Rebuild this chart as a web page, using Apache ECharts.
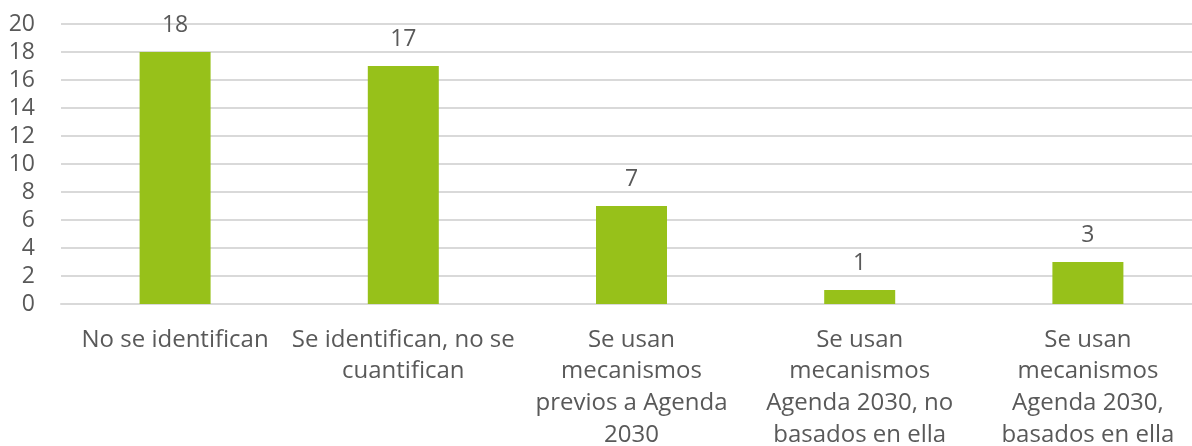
<!DOCTYPE html>
<html>
<head>
<meta charset="utf-8">
<script src="https://cdn.jsdelivr.net/npm/echarts@6/dist/echarts.min.js"></script>
<style>
  html, body { margin: 0; padding: 0; background: #fff; }
  #chart { width: 1192px; height: 446px; }
</style>
</head>
<body>
<div id="chart"></div>
<script>
// Categories (pre-wrapped into lines) and counts
const categories = [
  'No se identifican',
  'Se identifican, no se\ncuantifican',
  'Se usan\nmecanismos\nprevios a Agenda\n2030',
  'Se usan\nmecanismos\nAgenda 2030, no\nbasados en ella',
  'Se usan\nmecanismos\nAgenda 2030,\nbasados en ella'
];
const counts = [18, 17, 7, 1, 3];
const yTicks = { min: 0, max: 20, interval: 2 };

const textColor = '#595959';
const fontFamily = '"Open Sans", "Noto Sans", sans-serif';

const chart = echarts.init(document.getElementById('chart'));
chart.setOption({
  animation: false,
  grid: {
    left: 61, right: -10, top: 24, bottom: 142,
    containLabel: false, outerBoundsMode: 'none'
  },
  xAxis: {
    type: 'category',
    data: categories,
    axisLine: { show: true, lineStyle: { color: '#d9d9d9', width: 2 } },
    axisTick: { show: false },
    axisLabel: {
      color: textColor, fontFamily: fontFamily, fontSize: 24,
      lineHeight: 31.7, margin: 20, interval: 0, align: 'center'
    }
  },
  yAxis: {
    type: 'value',
    min: yTicks.min, max: yTicks.max, interval: yTicks.interval,
    axisLine: { show: false },
    axisTick: { show: false },
    splitLine: { lineStyle: { color: '#d9d9d9', width: 2 } },
    axisLabel: {
      color: textColor, fontFamily: fontFamily, fontSize: 23,
      margin: 26, align: 'right'
    }
  },
  series: [{
    type: 'bar',
    data: counts,
    barWidth: 71,
    itemStyle: { color: '#97c11a' },
    label: {
      show: true, position: 'top', distance: 15,
      color: textColor, fontFamily: fontFamily, fontSize: 23
    }
  }]
});
</script>
</body>
</html>
